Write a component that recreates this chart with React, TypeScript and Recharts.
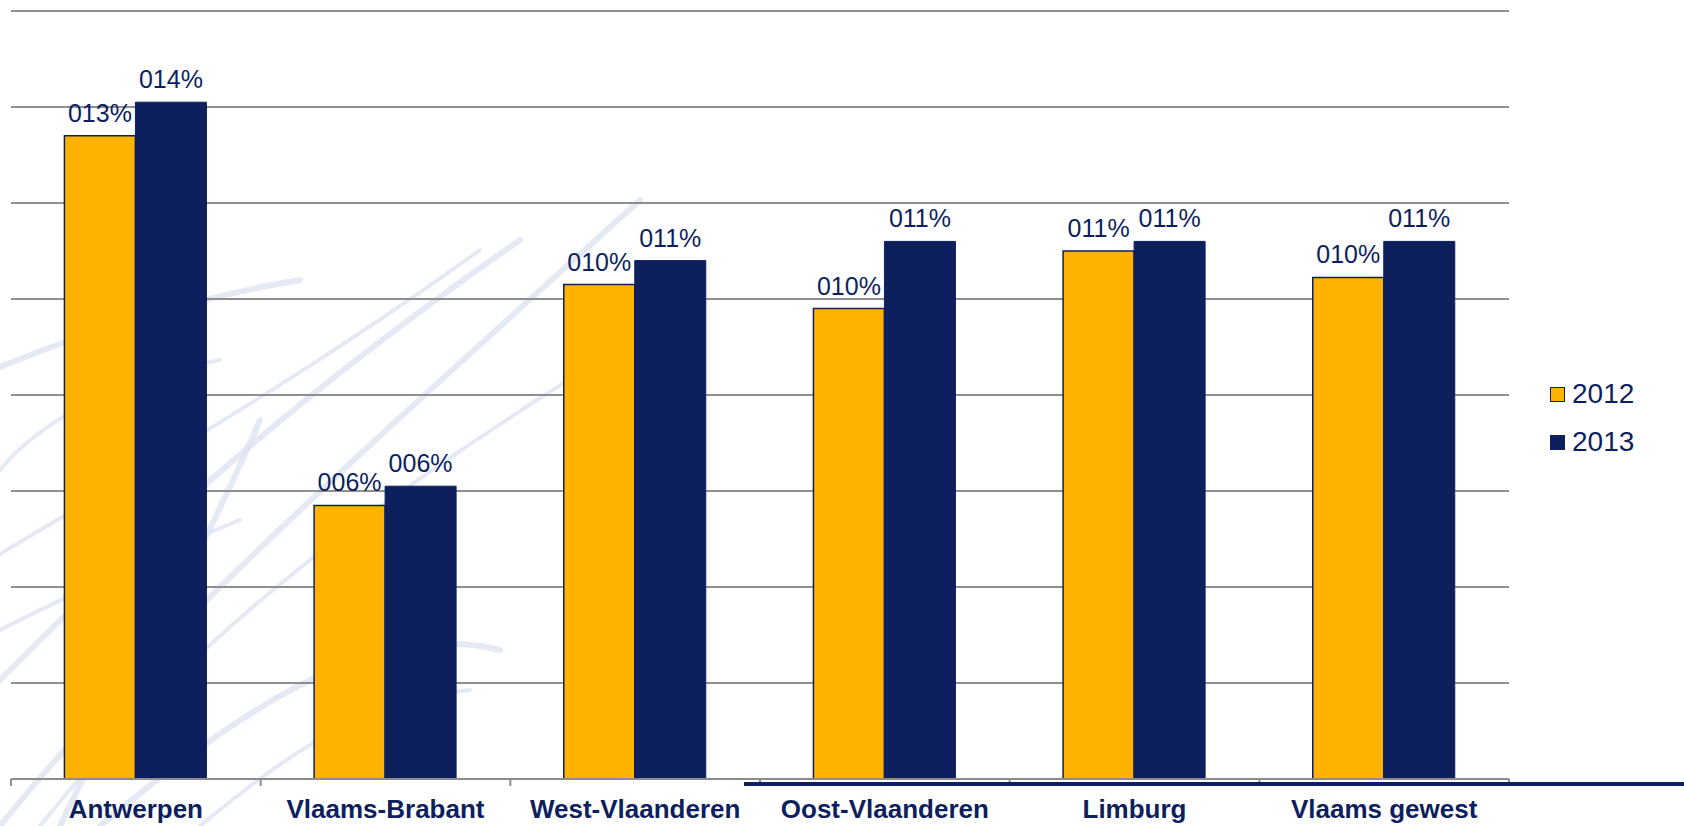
import React from 'react';
import { BarChart, Bar, XAxis, YAxis, CartesianGrid, LabelList } from 'recharts';

const categories = ['Antwerpen', 'Vlaams-Brabant', 'West-Vlaanderen', 'Oost-Vlaanderen', 'Limburg', 'Vlaams gewest'];
const series2012 = [13.4, 5.7, 10.3, 9.8, 11.0, 10.45];
const series2013 = [14.1, 6.1, 10.8, 11.2, 11.2, 11.2];
const yTicks = [0, 2, 4, 6, 8, 10, 12, 14, 16];
const seriesNames = ['2012', '2013'];

const W = 1684;
const H = 826;
const M = { top: 11, right: 175, bottom: 0, left: 11 };
const AXIS_H = 47;
const NAVY = '#0E1F5E';
const ORANGE = '#FFB300';
const FONT = '"Liberation Sans", Arial, sans-serif';

const data = categories.map((c, i) => ({ name: c, y2012: series2012[i], y2013: series2013[i] }));

const fmt = (v: any) => String(Math.round(Number(v))).padStart(3, '0') + '%';

const bandWidth = (W - M.left - M.right) / categories.length;

const XTick = (props: any) => {
  const { x, y, payload, index } = props;
  const last = index === categories.length - 1;
  return (
    <g>
      <line x1={x - bandWidth / 2} x2={x - bandWidth / 2} y1={y} y2={y + 7} stroke="#8c8c8c" strokeWidth={2} />
      {last && <line x1={x + bandWidth / 2} x2={x + bandWidth / 2} y1={y} y2={y + 7} stroke="#8c8c8c" strokeWidth={2} />}
      <text x={x} y={y + 39} textAnchor="middle" fill={NAVY} fontFamily={FONT} fontWeight="bold" fontSize={26}>
        {payload.value}
      </text>
    </g>
  );
};

const swirls = [
  'M -20 700 C 120 560, 260 420, 520 240',
  'M -10 560 C 140 470, 300 380, 480 250',
  'M 0 826 C 150 640, 330 480, 640 200',
  'M 40 826 C 180 650, 360 500, 700 300',
  'M -30 380 C 60 340, 180 300, 300 280',
  'M -20 640 C 60 600, 140 560, 240 520',
  'M 100 826 C 250 700, 380 620, 500 650',
  'M 0 470 C 40 420, 120 380, 220 360',
  'M 60 826 C 110 720, 200 560, 260 420',
  'M 200 826 C 280 760, 360 700, 470 690',
];

export default function App() {
  return (
    <div style={{ position: 'absolute', left: 0, top: 0, width: W, height: H, background: '#fff', overflow: 'hidden' }}>
      <svg width={W} height={H} style={{ position: 'absolute', left: 0, top: 0 }}>
        {swirls.map((d, i) => (
          <path key={i} d={d} stroke="#DCE2F0" strokeWidth={i % 2 ? 4 : 6} fill="none" strokeLinecap="round" opacity={0.75} />
        ))}
      </svg>
      <div style={{ position: 'absolute', left: 0, top: 0 }}>
        <BarChart width={W} height={H} data={data} margin={M} barCategoryGap="21.4%" barGap={0}>
          <CartesianGrid vertical={false} stroke="#8f8f8f" strokeWidth={2} />
          <YAxis hide domain={[0, 16]} ticks={yTicks} />
          <XAxis
            dataKey="name"
            height={AXIS_H}
            stroke="#8c8c8c"
            strokeWidth={2}
            tickLine={false}
            tickSize={0}
            tickMargin={0}
            interval={0}
            tick={<XTick />}
          />
          <Bar dataKey="y2012" name={seriesNames[0]} fill={ORANGE} stroke={NAVY} strokeWidth={1.5} isAnimationActive={false}>
            <LabelList dataKey="y2012" position="top" offset={14} formatter={fmt} fill={NAVY} fontSize={25} fontFamily={FONT} />
          </Bar>
          <Bar dataKey="y2013" name={seriesNames[1]} fill={NAVY} stroke={NAVY} strokeWidth={1} isAnimationActive={false}>
            <LabelList dataKey="y2013" position="top" offset={14} formatter={fmt} fill={NAVY} fontSize={25} fontFamily={FONT} />
          </Bar>
        </BarChart>
      </div>
      <div style={{ position: 'absolute', left: 744, top: 782, width: W - 744, height: 4, background: NAVY }} />
      <div style={{ position: 'absolute', left: 1550, top: 370, fontFamily: FONT, fontSize: 28, color: NAVY }}>
        {seriesNames.map((n, i) => (
          <div key={n} style={{ display: 'flex', alignItems: 'center', height: 48, lineHeight: '48px' }}>
            <span
              style={{
                display: 'inline-block',
                width: 13,
                height: 13,
                background: i === 0 ? ORANGE : NAVY,
                border: '1px solid ' + NAVY,
                marginRight: 7,
              }}
            />
            <span>{n}</span>
          </div>
        ))}
      </div>
    </div>
  );
}
